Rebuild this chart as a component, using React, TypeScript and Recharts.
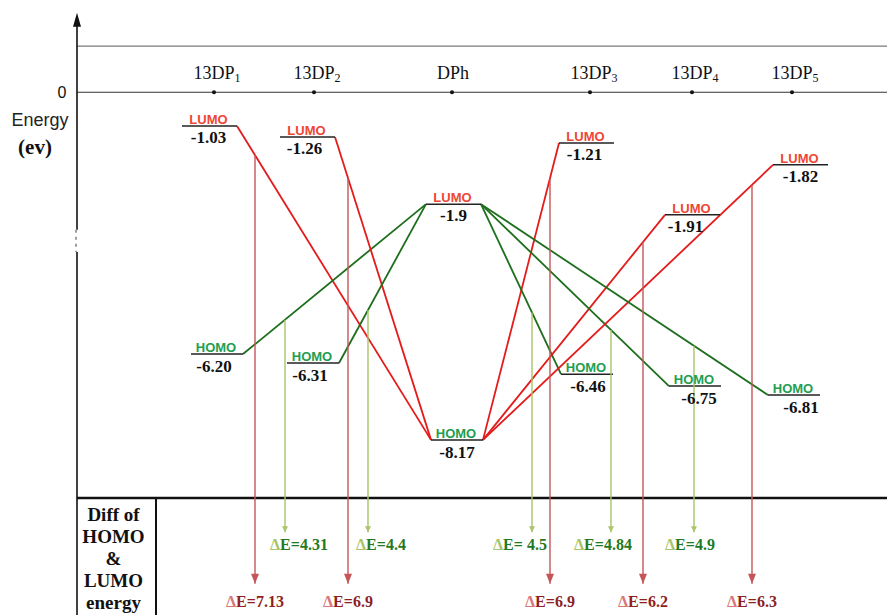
import { ComposedChart, Line, XAxis, YAxis, ReferenceLine, ReferenceDot } from 'recharts';

// molecules, left to right
const molecules = ['13DP', '13DP', 'DPh', '13DP', '13DP', '13DP'];
const moleculeSub = ['1', '2', '', '3', '4', '5'];

// orbital energies (eV) as printed
const lumoEnergy = ['-1.03', '-1.26', '-1.9', '-1.21', '-1.91', '-1.82'];
const homoEnergy = ['-6.20', '-6.31', '-8.17', '-6.46', '-6.75', '-6.81'];

// where each level is drawn on the (not to scale) energy axis
const lumoLevel = [-0.79, -1.05, -2.62, -1.19, -2.87, -1.7];
const homoLevel = [-6.13, -6.34, -8.14, -6.6, -6.88, -7.09];

// gaps for 13DP1..13DP5 against DPh
const gapLumoToDPhHomo = ['7.13', '6.9', '6.9', '6.2', '6.3'];
const gapHomoToDPhLumo = ['4.31', '4.4', ' 4.5', '4.84', '4.9'];

const tableLines = ['Diff of', 'HOMO', '&', 'LUMO', 'energy'];

// layout (diagram units)
const W = 887;
const H = 615;
const Y_MIN = -12.24;
const Y_MAX = 2.16;
const AXIS_X = 77;
const CELL_X = 156;
const TOP_LINE = 1.08;
const TABLE_LINE = -9.5;
const ARROW_TOP = 1.86;
const BREAK = [-3.22, -3.74];
const colX = [214, 314, 452, 590, 692, 792];
const nameX = [217, 317, 453, 594, 695, 795];
const lumoLeft = [182, 280, 426, 559, 665, 773];
const homoLeft = [191, 287, 431, 561, 669, 768];
const LUMO_W = 55;
const HOMO_W = 52;
const lumoValueDx = [-1, -3, 0, -2, -7, 0];
const homoValueDx = [-3, -3, 0, 1, 4, 7];
const redArrowX = [255, 348, 550, 643, 752];
const greenArrowX = [285, 368, 532, 611, 694];
const greenLabelDx = [14, 13, -12, -8, -4];
const RED_TIP = -11.51;
const GREEN_TIP = -10.3;
const CENTER = 2; // DPh

const SERIF = '"Liberation Serif", "Times New Roman", serif';
const SANS = '"Liberation Sans", Arial, sans-serif';
const RED = '#e31b1b';
const GREEN = '#1d6e1d';
const RED_ARROW = '#c4565a';
const GREEN_ARROW = '#a9c46a';

type Pt = { x: number; y: number };

const derivs = [0, 1, 3, 4, 5];

const connectors = derivs.flatMap((i) => {
  const left = i < CENTER;
  const red: Pt[] = left
    ? [{ x: lumoLeft[i] + LUMO_W, y: lumoLevel[i] }, { x: homoLeft[CENTER], y: homoLevel[CENTER] }]
    : [{ x: homoLeft[CENTER] + HOMO_W, y: homoLevel[CENTER] }, { x: lumoLeft[i], y: lumoLevel[i] }];
  const green: Pt[] = left
    ? [{ x: homoLeft[i] + HOMO_W, y: homoLevel[i] }, { x: lumoLeft[CENTER], y: lumoLevel[CENTER] }]
    : [{ x: lumoLeft[CENTER] + LUMO_W, y: lumoLevel[CENTER] }, { x: homoLeft[i], y: homoLevel[i] }];
  return [
    { key: `r${i}`, color: RED, points: red },
    { key: `g${i}`, color: GREEN, points: green },
  ];
});

const onSeg = (p: Pt[], x: number) => p[0].y + ((p[1].y - p[0].y) * (x - p[0].x)) / (p[1].x - p[0].x);

const textDot = (x: number, y: number, key: string, render: (cx: number, cy: number) => JSX.Element) => (
  <ReferenceDot
    key={key}
    x={x}
    y={y}
    r={0}
    ifOverflow="visible"
    shape={(p: any) => render(p.cx, p.cy)}
  />
);

const seg = (key: string, a: Pt, b: Pt, stroke: string, width: number, dash?: string) => (
  <ReferenceLine
    key={key}
    segment={[a, b]}
    stroke={stroke}
    strokeWidth={width}
    strokeDasharray={dash}
    ifOverflow="visible"
  />
);

const arrowHead = (key: string, x: number, y: number, color: string, w: number, h: number) => (
  <ReferenceDot
    key={key}
    x={x}
    y={y}
    r={0}
    ifOverflow="visible"
    shape={(p: any) => (
      <path d={`M${p.cx},${p.cy} L${p.cx - w / 2},${p.cy - h} L${p.cx + w / 2},${p.cy - h} Z`} fill={color} />
    )}
  />
);

export default function App() {
  return (
    <div style={{ position: 'absolute', left: 0, top: 0, width: W, height: H, background: '#fff' }}>
      <ComposedChart width={W} height={H} margin={{ top: 0, right: 0, bottom: 0, left: 0 }}>
        <XAxis type="number" dataKey="x" domain={[0, W]} hide allowDataOverflow />
        <YAxis type="number" dataKey="y" domain={[Y_MIN, Y_MAX]} hide allowDataOverflow />

        {/* frame */}
        {seg('top', { x: AXIS_X, y: TOP_LINE }, { x: W, y: TOP_LINE }, '#7a7a7a', 1.2)}
        {seg('zero', { x: AXIS_X, y: 0 }, { x: W, y: 0 }, '#333', 1.2)}
        {seg('ax1', { x: AXIS_X, y: ARROW_TOP - 0.2 }, { x: AXIS_X, y: BREAK[0] }, '#111', 1.6)}
        {seg('axb', { x: AXIS_X - 1, y: BREAK[0] }, { x: AXIS_X - 1, y: BREAK[1] }, '#888', 1.6, '3 4')}
        {seg('ax2', { x: AXIS_X, y: BREAK[1] }, { x: AXIS_X, y: Y_MIN }, '#111', 1.6)}
        {arrowHead('axArrow', AXIS_X, ARROW_TOP, '#111', 8, -14)}
        {seg('table', { x: AXIS_X, y: TABLE_LINE }, { x: W, y: TABLE_LINE }, '#111', 2.5)}
        {seg('cell', { x: CELL_X, y: TABLE_LINE }, { x: CELL_X, y: Y_MIN }, '#111', 2)}
        {colX.map((x, i) => (
          <ReferenceDot key={`c${i}`} x={x} y={0} r={2} fill="#111" stroke="none" ifOverflow="visible" />
        ))}

        {/* connectors */}
        {connectors.map((c) => (
          <Line
            key={c.key}
            data={c.points}
            dataKey="y"
            stroke={c.color}
            strokeWidth={1.8}
            dot={false}
            activeDot={false}
            isAnimationActive={false}
          />
        ))}

        {/* energy levels */}
        {molecules.map((_, i) =>
          seg(`l${i}`, { x: lumoLeft[i], y: lumoLevel[i] }, { x: lumoLeft[i] + LUMO_W, y: lumoLevel[i] }, '#222', 1.5)
        )}
        {molecules.map((_, i) =>
          seg(`h${i}`, { x: homoLeft[i], y: homoLevel[i] }, { x: homoLeft[i] + HOMO_W, y: homoLevel[i] }, '#222', 1.5)
        )}

        {/* gap arrows */}
        {derivs.map((i, k) => {
          const c = connectors.find((d) => d.key === `r${i}`)!;
          const x = redArrowX[k];
          return seg(`ra${k}`, { x, y: onSeg(c.points, x) }, { x, y: RED_TIP }, RED_ARROW, 1.4);
        })}
        {derivs.map((i, k) => {
          const c = connectors.find((d) => d.key === `g${i}`)!;
          const x = greenArrowX[k];
          return seg(`ga${k}`, { x, y: onSeg(c.points, x) }, { x, y: GREEN_TIP }, GREEN_ARROW, 1.4);
        })}
        {redArrowX.map((x, k) => arrowHead(`rh${k}`, x, RED_TIP, RED_ARROW, 8, 10))}
        {greenArrowX.map((x, k) => arrowHead(`gh${k}`, x, GREEN_TIP, GREEN_ARROW, 6, 6))}

        {/* texts */}
        {textDot(62, 0, 't0', (cx, cy) => (
          <text x={cx} y={cy + 6} textAnchor="middle" fontFamily={SANS} fontSize={16} fill="#111">0</text>
        ))}
        {textDot(40, 0, 'tE', (cx, cy) => (
          <g>
            <text x={cx} y={cy + 34} textAnchor="middle" fontFamily={SANS} fontSize={18} fill="#222">Energy</text>
            <text x={cx - 5} y={cy + 62} textAnchor="middle" fontFamily={SERIF} fontWeight="bold" fontSize={21} fill="#111">(ev)</text>
          </g>
        ))}
        {molecules.map((m, i) =>
          textDot(nameX[i], 0, `n${i}`, (cx, cy) => (
            <text x={cx} y={cy - 13} textAnchor="middle" fontFamily={SERIF} fontSize={18} fill="#111">
              {m}
              {moleculeSub[i] && (
                <tspan fontSize={12} dy={3}>{moleculeSub[i]}</tspan>
              )}
            </text>
          ))
        )}
        {molecules.map((_, i) =>
          textDot(lumoLeft[i] + LUMO_W / 2, lumoLevel[i], `lt${i}`, (cx, cy) => (
            <g>
              <text x={cx - 1} y={cy - 2} textAnchor="middle" fontFamily={SANS} fontWeight="bold" fontSize={13} fill="#ee4634">LUMO</text>
              <text x={cx + lumoValueDx[i]} y={cy + 17} textAnchor="middle" fontFamily={SERIF} fontWeight="bold" fontSize={17} fill="#111">{lumoEnergy[i]}</text>
            </g>
          ))
        )}
        {molecules.map((_, i) =>
          textDot(homoLeft[i] + HOMO_W / 2, homoLevel[i], `ht${i}`, (cx, cy) => (
            <g>
              <text x={cx - 1} y={cy - 2} textAnchor="middle" fontFamily={SANS} fontWeight="bold" fontSize={13} fill="#1f9e50">HOMO</text>
              <text x={cx + homoValueDx[i]} y={cy + 18} textAnchor="middle" fontFamily={SERIF} fontWeight="bold" fontSize={17} fill="#111">{homoEnergy[i]}</text>
            </g>
          ))
        )}
        {gapHomoToDPhLumo.map((g, k) =>
          textDot(greenArrowX[k] + greenLabelDx[k], GREEN_TIP, `gl${k}`, (cx, cy) => (
            <text x={cx} y={cy + 18} textAnchor="middle" fontFamily={SERIF} fontWeight="bold" fontSize={16} fill="#1f7a22" xmlSpace="preserve">
              <tspan fill="#a9c46a">Δ</tspan>E={g}
            </text>
          ))
        )}
        {gapLumoToDPhHomo.map((g, k) =>
          textDot(redArrowX[k], RED_TIP, `rl${k}`, (cx, cy) => (
            <text x={cx} y={cy + 23} textAnchor="middle" fontFamily={SERIF} fontWeight="bold" fontSize={16} fill="#8e1f22">
              <tspan fill="#d9777a">Δ</tspan>E={g}
            </text>
          ))
        )}
        {textDot((AXIS_X + CELL_X) / 2 - 3, TABLE_LINE, 'tbl', (cx, cy) => (
          <text x={cx} y={cy + 23} textAnchor="middle" fontFamily={SERIF} fontWeight="bold" fontSize={19} fill="#111">
            {tableLines.map((t, i) => (
              <tspan key={i} x={cx} dy={i === 0 ? 0 : 22}>{t}</tspan>
            ))}
          </text>
        ))}
      </ComposedChart>
    </div>
  );
}
